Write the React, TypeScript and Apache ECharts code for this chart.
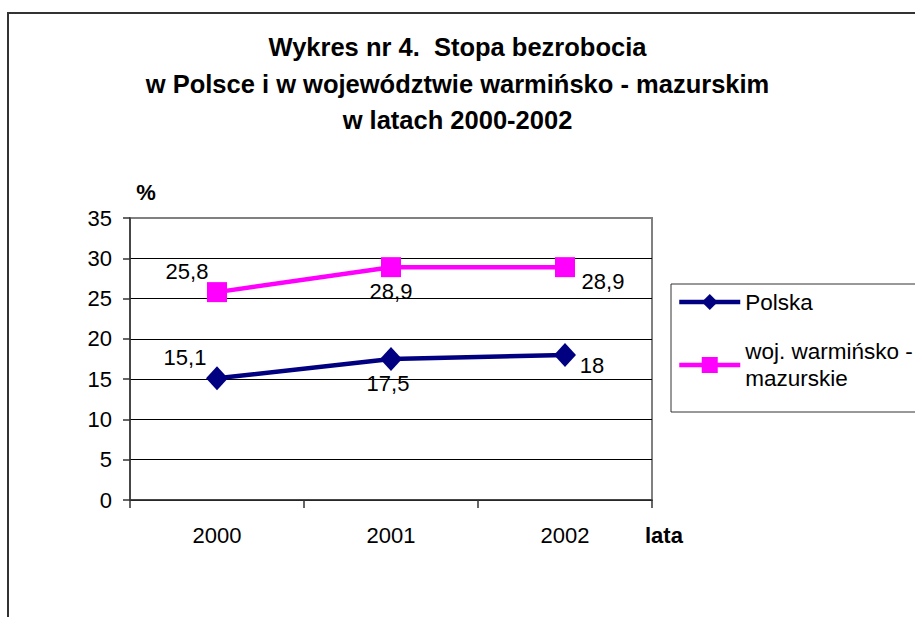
import React, { useEffect, useRef } from "react";
import * as echarts from "echarts";

const categories = ["2000", "2001", "2002"];
const polska = [15.1, 17.5, 18];
const wojewodztwo = [25.8, 28.9, 28.9];
const yTicks = { min: 0, max: 35, interval: 5 };
const seriesNames = ["Polska", "woj. warmińsko - mazurskie"];

const FONT = "Liberation Sans, Arial, sans-serif";

const polskaLabelOffsets = [
  [-32, -21],
  [-3, 24],
  [27, 11],
];
const wojLabelOffsets = [
  [-30, -21],
  [0, 24],
  [38, 14],
];

const fmt = (v: number) => String(v).replace(".", ",");

export default function App() {
  const ref = useRef<HTMLDivElement>(null);
  useEffect(() => {
    if (!ref.current) return;
    const chart = echarts.init(ref.current, null, { renderer: "svg" });
    const mkData = (vals: number[], offs: number[][]) =>
      vals.map((v, i) => ({
        value: v,
        label: { offset: offs[i] },
      }));
    const labelStyle = {
      show: true,
      position: "inside",
      formatter: (p: any) => fmt(p.value),
      fontFamily: FONT,
      fontSize: 22,
      color: "#000",
    };
    chart.setOption({
      animation: false,
      backgroundColor: "#fff",
      title: {
        text: "Wykres nr 4.  Stopa bezrobocia\nw Polsce i w województwie warmińsko - mazurskim\nw latach 2000-2002",
        left: "center",
        top: 29,
        padding: 0,
        textStyle: {
          fontFamily: FONT,
          fontSize: 25.5,
          fontWeight: "bold",
          color: "#000",
          lineHeight: 36.5,
        },
      },
      grid: {
        left: 130,
        top: 218,
        width: 522,
        height: 282,
        show: true,
        borderColor: "#808080",
        borderWidth: 2,
        backgroundColor: "#fff",
      },
      legend: {
        left: 671,
        top: 284,
        orient: "vertical",
        padding: [4.5, 400, 6.5, 6],
        borderColor: "#333",
        borderWidth: 1,
        itemWidth: 61,
        itemHeight: 20,
        itemGap: 9,
        lineStyle: { width: 4.5 },
        textStyle: { fontFamily: FONT, fontSize: 22.5, color: "#000", lineHeight: 27 },
        formatter: (name: string) => name.replace(" - ", " -\n"),
        data: [
          { name: seriesNames[0] },
          { name: seriesNames[1], textStyle: { padding: [27, 0, 0, 0] } },
        ],
      },
      xAxis: {
        type: "category",
        data: categories,
        boundaryGap: true,
        axisLine: { lineStyle: { color: "#333", width: 1.5 } },
        axisTick: { show: true, length: 8, lineStyle: { color: "#333", width: 1.5 } },
        axisLabel: { fontFamily: FONT, fontSize: 22, color: "#000", margin: 24 },
        splitLine: { show: false },
      },
      yAxis: {
        type: "value",
        min: yTicks.min,
        max: yTicks.max,
        interval: yTicks.interval,
        axisLine: { show: true, lineStyle: { color: "#333", width: 1.5 } },
        axisTick: { show: true, length: 7, lineStyle: { color: "#333", width: 1.5 } },
        axisLabel: { fontFamily: FONT, fontSize: 22, color: "#000", margin: 18 },
        splitLine: {
          show: true,
          lineStyle: {
            color: ["#000", "#000", "#000", "#000", "#000", "#000", "#000", "#808080"],
            width: 1,
          },
        },
      },
      series: [
        {
          name: seriesNames[0],
          type: "line",
          data: mkData(polska, polskaLabelOffsets),
          color: "#000080",
          lineStyle: { color: "#000080", width: 4.5 },
          itemStyle: { color: "#000080" },
          symbol: "diamond",
          symbolSize: [22, 24],
          label: labelStyle,
        },
        {
          name: seriesNames[1],
          type: "line",
          data: mkData(wojewodztwo, wojLabelOffsets),
          color: "#FF00FF",
          lineStyle: { color: "#FF00FF", width: 4.5 },
          itemStyle: { color: "#FF00FF" },
          symbol: "rect",
          symbolSize: 20,
          label: labelStyle,
        },
      ],
      graphic: [
        {
          type: "rect",
          shape: { x: 8, y: 13, width: 1200, height: 800 },
          style: { fill: "transparent", stroke: "#333", lineWidth: 2 },
          silent: true,
          z: -1,
        },
        {
          type: "text",
          x: 146,
          y: 192,
          style: {
            text: "%",
            fontFamily: FONT,
            fontSize: 22,
            fontWeight: "bold",
            fill: "#000",
            align: "center",
            verticalAlign: "middle",
          },
        },
        {
          type: "text",
          x: 645,
          y: 535,
          style: {
            text: "lata",
            fontFamily: FONT,
            fontSize: 22,
            fontWeight: "bold",
            fill: "#000",
            align: "left",
            verticalAlign: "middle",
          },
        },
      ],
    });
    return () => chart.dispose();
  }, []);
  return (
    <div
      ref={ref}
      style={{ position: "absolute", left: 0, top: 0, width: 915, height: 617 }}
    />
  );
}
